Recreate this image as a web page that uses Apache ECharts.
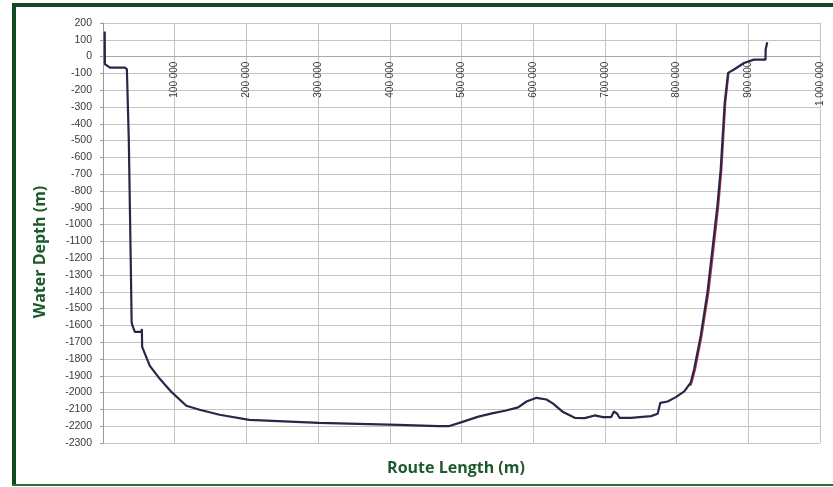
<!DOCTYPE html>
<html>
<head>
<meta charset="utf-8">
<script src="https://cdn.jsdelivr.net/npm/echarts@6/dist/echarts.min.js"></script>
<style>
  html, body { margin: 0; padding: 0; background: #fff; }
  #chart { width: 833px; height: 487px; }
</style>
</head>
<body>
<div id="chart"></div>
<script>
// route profile
var routeLength = [2400, 2600, 4000, 9700, 30500, 33300, 36000, 39000, 39900, 41000, 44400, 53700, 54200, 54600,
  65300, 79200, 95400, 116200, 134700, 162500, 204000, 301000, 412000, 468000, 482000, 500400, 523600, 544000,
  560700, 579000, 590700, 604600, 618500, 627800, 641700, 657900, 671800, 685700, 697200, 708800, 712500, 717100,
  720400, 736500, 764300, 773600, 777300, 787500, 799000, 810700, 819900, 824500, 833700, 843000, 850000, 856900,
  861500, 867100, 871800, 880100, 894000, 907900, 924000, 924200, 926400];
var waterDepth = [150, -45, -55, -66, -66, -75, -500, -1300, -1580, -1600, -1639, -1639, -1621, -1728,
  -1841, -1918, -1996, -2078, -2102, -2132, -2162, -2180, -2192, -2200, -2200, -2176, -2143, -2122,
  -2108, -2088, -2053, -2031, -2041, -2066, -2116, -2150, -2152, -2136, -2146, -2146, -2112, -2126,
  -2150, -2150, -2140, -2126, -2061, -2053, -2027, -1993, -1939, -1859, -1661, -1403, -1146, -889,
  -671, -275, -97, -77, -38, -18, -18, 42, 85];

// second (red) trace only visible on the eastern slope
var redLength = [819000, 821000, 826000, 835000, 844500, 851500, 858200, 862600, 868000, 872500];
var redDepth = [-1960, -1939, -1859, -1661, -1403, -1146, -889, -671, -275, -97];

var xTicks = [0, 100000, 200000, 300000, 400000, 500000, 600000, 700000, 800000, 900000, 1000000];
var yMin = -2300, yMax = 200;

var pairs = function(xs, ys) {
  var out = [];
  for (var i = 0; i < xs.length; i++) out.push([xs[i], ys[i]]);
  return out;
};

var spaced = function(v) {
  return String(v).replace(/\B(?=(\d{3})+(?!\d))/g, ' ');
};

var green = '#1c5a2b';
var gridTop = 23, gridBottom = 44, chartHeight = 487;
// move the x axis up to the depth-0 line (Excel style crossing)
var plotHeight = chartHeight - gridTop - gridBottom;
var zeroOffset = -plotHeight * (0 - yMin) / (yMax - yMin);

var chart = echarts.init(document.getElementById('chart'));

chart.setOption({
  animation: false,
  grid: { left: 103, right: 13, top: gridTop, bottom: gridBottom },
  xAxis: {
    type: 'value',
    min: xTicks[0],
    max: xTicks[xTicks.length - 1],
    interval: 100000,
    offset: zeroOffset,
    axisLine: { show: true, onZero: false, lineStyle: { color: '#a8a8a8', width: 1 } },
    axisTick: { show: false },
    axisLabel: {
      rotate: 90,
      margin: 5,
      fontSize: 10,
      color: '#3a3a3a',
      fontFamily: 'Liberation Sans',
      formatter: function(v) { return v === 0 ? '' : spaced(v); }
    },
    splitLine: { show: true, lineStyle: { color: '#c4c4c4', width: 1 } }
  },
  yAxis: {
    type: 'value',
    min: yMin,
    max: yMax,
    interval: 100,
    axisLine: { show: true, onZero: false, lineStyle: { color: '#9a9a9a', width: 1 } },
    axisTick: { show: true, length: 3, lineStyle: { color: '#9a9a9a' } },
    axisLabel: {
      margin: 11,
      fontSize: 10.5,
      color: '#3a3a3a',
      fontFamily: 'Liberation Sans',
      formatter: function(v) { return String(v); }
    },
    splitLine: { show: true, lineStyle: { color: '#c4c4c4', width: 1 } }
  },
  series: [
    {
      type: 'line',
      data: pairs(redLength, redDepth),
      showSymbol: false,
      lineStyle: { color: '#b23a48', width: 2 },
      z: 2
    },
    {
      type: 'line',
      data: pairs(routeLength, waterDepth),
      showSymbol: false,
      lineStyle: { color: '#2b2548', width: 2.2 },
      z: 3
    }
  ],
  graphic: [
    { type: 'rect', shape: { x: 12, y: 3, width: 4, height: 483 }, style: { fill: '#0f4a20' } },
    { type: 'rect', shape: { x: 12, y: 3, width: 821, height: 4 }, style: { fill: '#0f4a20' } },
    { type: 'rect', shape: { x: 12, y: 484, width: 821, height: 2 }, style: { fill: '#2a6a3a' } },
    {
      type: 'text',
      x: 40, y: 252,
      rotation: Math.PI / 2,
      style: {
        text: 'Water Depth (m)',
        font: 'bold 16px "Open Sans"',
        fill: green,
        align: 'center',
        verticalAlign: 'middle'
      }
    },
    {
      type: 'text',
      x: 456, y: 468,
      style: {
        text: 'Route Length (m)',
        font: 'bold 16px "Open Sans"',
        fill: green,
        align: 'center',
        verticalAlign: 'middle'
      }
    }
  ]
});
</script>
</body>
</html>
